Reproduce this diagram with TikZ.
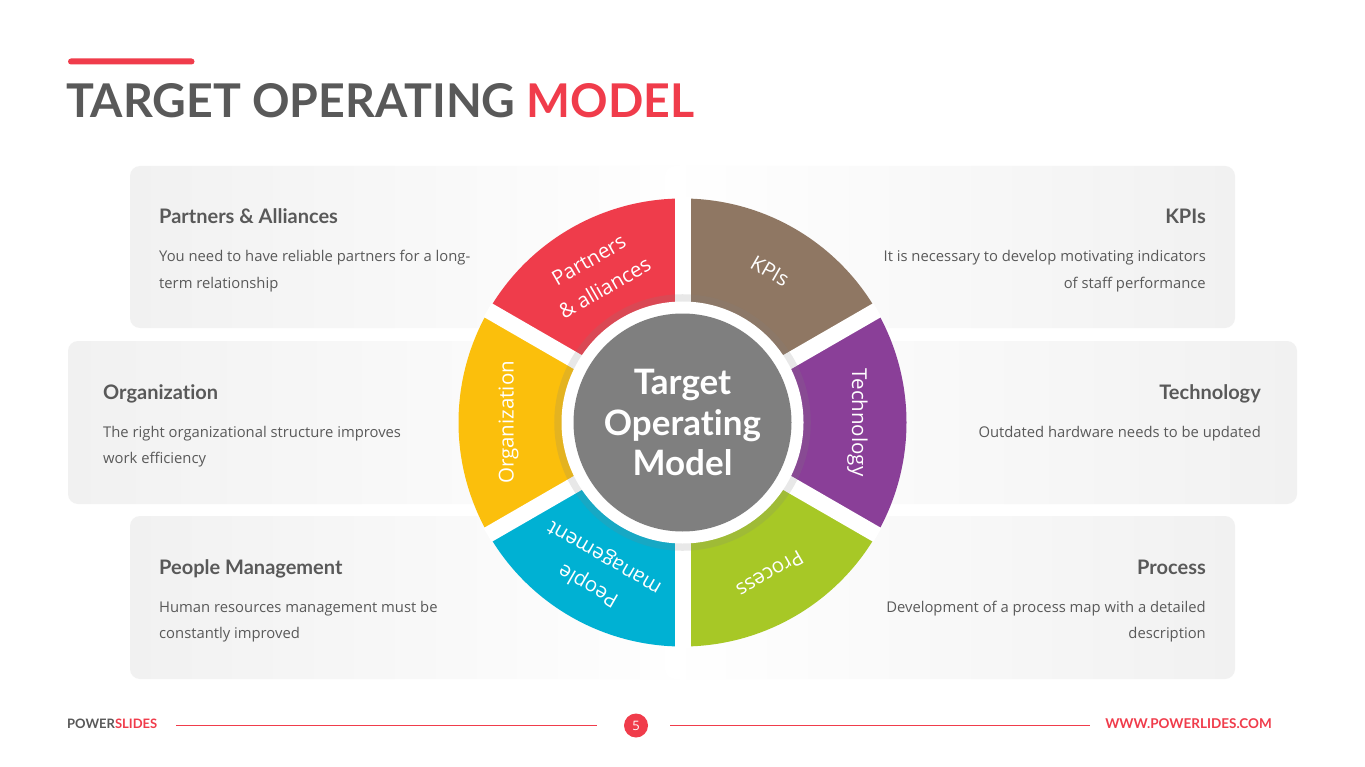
\documentclass[tikz,border=0pt]{standalone}
\usepackage{fontspec}
\setmainfont{Open Sans}
\newfontfamily\lato{Lato}[Ligatures=NoCommon]
\usetikzlibrary{shadows}
\definecolor{brand}{HTML}{F03C4B}
\definecolor{txt}{HTML}{595959}
\definecolor{card}{HTML}{F1F1F1}
\definecolor{cPart}{HTML}{EF3C4B}
\definecolor{cKpi}{HTML}{8F7763}
\definecolor{cTech}{HTML}{8A3F98}
\definecolor{cProc}{HTML}{A7C826}
\definecolor{cPeop}{HTML}{00B1D3}
\definecolor{cOrg}{HTML}{FBBF0C}
\definecolor{cCore}{HTML}{7F7F7F}
\tikzset{
  heading/.style={inner sep=0pt, text=txt, font=\lato\bfseries\fontsize{20}{24}\selectfont},
  body/.style={inner sep=0pt, text=txt, font=\fontsize{14.8}{26}\selectfont},
  seglabel/.style={inner sep=0pt, text=white, align=center, font=\fontsize{20.5}{32}\selectfont},
  leftcard/.style={left color=card, right color=white, rounded corners=10pt},
  rightcard/.style={left color=white, right color=card, rounded corners=10pt},
  gapline/.style={white, line width=16pt},
}
\begin{document}
\begin{tikzpicture}[x=1pt,y=-1pt]
\useasboundingbox (0,0) rectangle (1365,767);
\fill[white] (0,0) rectangle (1365,767);

% title
\fill[brand, rounded corners=3pt] (68,58.5) rectangle (194.5,64.5);
\node[anchor=base west, inner sep=0pt, font=\lato\bfseries\fontsize{46.5}{50}\selectfont] (title) at (66,118)
  {\textcolor{txt}{TARGET OPERATING} \textcolor{brand}{MODEL}};

% cards
\shade[leftcard]  (130,166) rectangle (700,328);
\shade[rightcard] (665,166) rectangle (1235,328);
\shade[leftcard]  (68,341)  rectangle (700,504);
\shade[rightcard] (665,341) rectangle (1297,504);
\shade[leftcard]  (130,516) rectangle (700,679);
\shade[rightcard] (665,516) rectangle (1235,679);

% card texts
\node[heading, anchor=base west] (hPart) at (159,224) {Partners \& Alliances};
\node[body, anchor=base west] (bPart) at (159,262) {\begin{tabular}[t]{@{}l@{}}You need to have reliable partners for a long-\\term relationship\end{tabular}};
\node[heading, anchor=base east] (hKpi) at (1206,224) {KPIs};
\node[body, anchor=base east] (bKpi) at (1206,262) {\begin{tabular}[t]{@{}r@{}}It is necessary to develop motivating indicators\\of staff performance\end{tabular}};
\node[heading, anchor=base west] (hOrg) at (103,399) {Organization};
\node[body, anchor=base west] (bOrg) at (103,437) {\begin{tabular}[t]{@{}l@{}}The right organizational structure improves\\work efficiency\end{tabular}};
\node[heading, anchor=base east] (hTech) at (1261,399) {Technology};
\node[body, anchor=base east] (bTech) at (1261,437) {Outdated hardware needs to be updated};
\node[heading, anchor=base west] (hPeop) at (159,574) {People Management};
\node[body, anchor=base west] (bPeop) at (159,612) {\begin{tabular}[t]{@{}l@{}}Human resources management must be\\constantly improved\end{tabular}};
\node[heading, anchor=base east] (hProc) at (1206,574) {Process};
\node[body, anchor=base east] (bProc) at (1206,612) {\begin{tabular}[t]{@{}r@{}}Development of a process map with a detailed\\description\end{tabular}};

% wheel
\begin{scope}[shift={(682.5,422.5)}, yscale=-1]
  \fill[cKpi]  (30:224) arc[start angle=30, end angle=90, radius=224] -- (90:100) arc[start angle=90, end angle=30, radius=100] -- cycle;
  \fill[cPart] (90:224) arc[start angle=90, end angle=150, radius=224] -- (150:100) arc[start angle=150, end angle=90, radius=100] -- cycle;
  \fill[cOrg]  (150:224) arc[start angle=150, end angle=210, radius=224] -- (210:100) arc[start angle=210, end angle=150, radius=100] -- cycle;
  \fill[cPeop] (210:224) arc[start angle=210, end angle=270, radius=224] -- (270:100) arc[start angle=270, end angle=210, radius=100] -- cycle;
  \fill[cProc] (270:224) arc[start angle=270, end angle=330, radius=224] -- (330:100) arc[start angle=330, end angle=270, radius=100] -- cycle;
  \fill[cTech] (-30:224) arc[start angle=-30, end angle=30, radius=224] -- (30:100) arc[start angle=30, end angle=-30, radius=100] -- cycle;
  \foreach \a in {30,90,150,210,270,330} {
    \draw[gapline] (0,0) -- (\a:225);
  }
  \fill[white, drop shadow={opacity=0.18, shadow xshift=0pt, shadow yshift=0pt, shadow scale=1.06}] (0,0) circle (121);
  \fill[cCore] (0,0) circle (109);
  \node[inner sep=0pt, text=white, align=center, font=\lato\bfseries\fontsize{35}{40.5}\selectfont] (core) at (0,0) {Target\\Operating\\Model};
  \node[seglabel, rotate=30]   (lPart) at (120:171.5) {Partners\\\& alliances};
  \node[seglabel, rotate=-30]  (lKpi)  at (60:175) {KPIs};
  \node[seglabel, rotate=-90]  (lTech) at (0:175) {Technology};
  \node[seglabel, rotate=-150] (lProc) at (-60:175) {Process};
  \node[seglabel, rotate=150]  (lPeop) at (-120:171.5) {People\\management};
  \node[seglabel, rotate=90]   (lOrg)  at (180:174) {Organization};
\end{scope}

% footer
\node[anchor=base west, inner sep=0pt, font=\lato\bfseries\fontsize{13}{15}\selectfont] (brandL) at (67,728.5)
  {\textcolor{txt}{POWER}\textcolor{brand}{SLIDES}};
\node[circle, fill=brand, minimum size=24pt, inner sep=0pt, text=white, font=\fontsize{13}{15}\selectfont] (page) at (636,725.5) {5};
\coordinate (lineL) at (176,725.5);
\coordinate (lineLe) at (597,725.5);
\coordinate (lineRs) at (670,725.5);
\coordinate (lineR) at (1090,725.5);
\draw[brand, line width=1pt] (lineL) -- (lineLe);
\draw[brand, line width=1pt] (lineRs) -- (lineR);
\node[anchor=base east, inner sep=0pt, text=brand, font=\lato\bfseries\fontsize{13.5}{15}\selectfont] (brandR) at (1272,728.5) {WWW.POWERLIDES.COM};
\end{tikzpicture}
\end{document}
